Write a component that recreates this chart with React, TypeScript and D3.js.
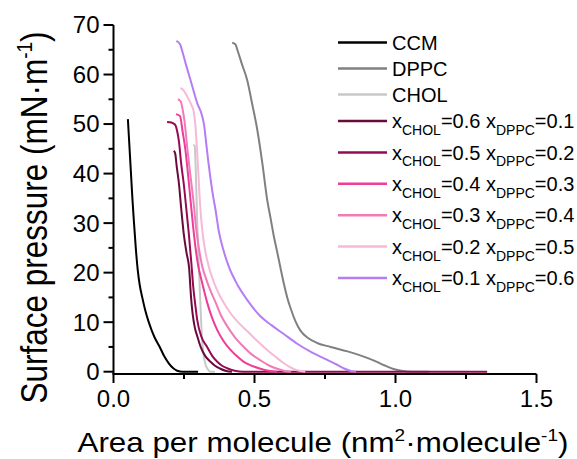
import { useEffect, useRef } from "react";
import * as d3 from "d3";

// isotherm data: [area (nm²·molecule⁻¹), surface pressure (mN·m⁻¹)]
const ccm = [[0.051,51],[0.056,46],[0.062,40],[0.067,35],[0.072,30.6],[0.079,25],[0.086,20.5],[0.093,17.5],[0.102,15],[0.113,12.3],[0.125,10],[0.145,7],[0.164,5],[0.18,3.1],[0.196,1.7],[0.212,0.7],[0.226,0.2],[0.245,0],[0.3,0]];
const dppc = [[0.421,66.4],[0.432,66.1],[0.442,64.5],[0.456,62],[0.474,58.9],[0.492,54],[0.51,48.8],[0.528,42],[0.545,34.7],[0.557,31],[0.568,27.5],[0.58,24.3],[0.592,21],[0.604,17.8],[0.616,15],[0.628,12.8],[0.645,10.2],[0.663,8.3],[0.69,6.8],[0.722,5.8],[0.77,5],[0.83,4.1],[0.89,3],[0.93,2.1],[0.96,1.3],[0.99,0.6],[1.02,0.2],[1.06,0],[1.12,0]];
const chol = [[0.283,45.8],[0.288,45.6],[0.291,42],[0.294,36],[0.297,30],[0.301,24],[0.305,18],[0.309,12.5],[0.313,7.5],[0.318,4],[0.325,1.7],[0.334,0.5],[0.345,0],[0.36,0]];
const mix61 = [[0.214,44.6],[0.219,44],[0.224,41.5],[0.232,38],[0.24,33],[0.249,27.9],[0.259,24],[0.268,21],[0.275,15],[0.281,11.5],[0.288,9],[0.298,7],[0.309,5],[0.325,3.2],[0.344,2],[0.36,1.2],[0.379,0.6],[0.4,0.15],[0.42,0]];
const mix52 = [[0.19,50.4],[0.205,50.3],[0.218,49.9],[0.226,48.5],[0.232,46.5],[0.24,42],[0.249,38],[0.258,33],[0.267,27.9],[0.276,22],[0.283,17],[0.29,13.5],[0.297,10.4],[0.312,7],[0.332,5],[0.35,3.2],[0.368,2],[0.385,1.2],[0.403,0.7],[0.43,0.2],[0.46,0],[1.325,0]];
const mix43 = [[0.222,52],[0.236,51.6],[0.245,48.5],[0.255,44.8],[0.264,40],[0.273,34.7],[0.282,29.5],[0.291,25],[0.3,21.5],[0.312,18.5],[0.332,14],[0.35,10.8],[0.368,8.4],[0.39,6.2],[0.415,4.4],[0.44,3],[0.462,2],[0.49,1.2],[0.521,0.6],[0.55,0.2],[0.58,0]];
const mix34 = [[0.228,55],[0.238,54.6],[0.245,53],[0.252,50.5],[0.262,45],[0.272,40],[0.283,34.7],[0.293,29],[0.304,24.5],[0.315,21.2],[0.33,18.5],[0.345,16.2],[0.362,14],[0.38,11.5],[0.403,9.2],[0.43,7],[0.462,5],[0.49,3.5],[0.521,2.3],[0.55,1.3],[0.58,0.6],[0.61,0.1],[0.63,0]];
const mix25 = [[0.237,57.3],[0.25,56.7],[0.261,55.6],[0.275,54],[0.284,52.6],[0.29,50],[0.296,45],[0.301,40],[0.306,34.7],[0.314,29],[0.325,24.5],[0.338,21.2],[0.36,17.5],[0.39,14],[0.415,11.8],[0.445,9.8],[0.474,8.2],[0.51,6.2],[0.545,4.4],[0.575,3],[0.604,1.7],[0.63,0.8],[0.651,0.3],[0.68,0]];
const mix16 = [[0.223,66.8],[0.236,66.1],[0.246,64.3],[0.257,62],[0.273,58.9],[0.297,54.2],[0.315,51.5],[0.322,49.5],[0.328,46.5],[0.336,42.5],[0.344,39],[0.353,35.5],[0.362,32.6],[0.373,28.5],[0.39,24.5],[0.409,21.2],[0.44,17.5],[0.474,14.5],[0.521,11.2],[0.56,9.4],[0.604,7.6],[0.65,5.7],[0.7,4],[0.75,2.6],[0.793,1.4],[0.82,0.6],[0.845,0.1],[0.86,0]];

const pureNames = ["CCM", "DPPC", "CHOL"];
const xChol = ["0.6", "0.5", "0.4", "0.3", "0.2", "0.1"];
const xDppc = ["0.1", "0.2", "0.3", "0.4", "0.5", "0.6"];
const colors = ["#000000", "#808080", "#c8c8c8", "#680a3a", "#960a55", "#ee3d96", "#f27ab8", "#f8b8d8", "#b57cf5"];
const allSeries = [ccm, dppc, chol, mix61, mix52, mix43, mix34, mix25, mix16];

const xMajor = [0, 0.5, 1.0, 1.5];
const xMinor = [0.25, 0.75, 1.25];
const yMajor = [0, 10, 20, 30, 40, 50, 60, 70];
const yMinor = [5, 15, 25, 35, 45, 55, 65];

export default function App() {
  const ref = useRef<SVGSVGElement>(null);

  useEffect(() => {
    const width = 577;
    const height = 459;
    const left = 113.5;
    const right = 536.5;
    const top = 25;
    const zeroY = 371.7;
    const axisY = 374;
    const font = "'Liberation Sans', Arial, sans-serif";

    const svg = d3.select(ref.current);
    svg.selectAll("*").remove();
    svg.attr("width", width).attr("height", height).attr("viewBox", [0, 0, width, height].join(" "))
      .style("font-family", font);

    svg.append("rect").attr("width", width).attr("height", height).attr("fill", "white");

    const x = d3.scaleLinear([0, 1.5], [left, right]);
    const y = d3.scaleLinear([0, 70], [zeroY, top]);

    // axes
    const ax = svg.append("g").attr("stroke", "black").attr("stroke-width", 2);
    ax.append("line").attr("x1", left).attr("x2", left).attr("y1", top).attr("y2", axisY);
    ax.append("line").attr("x1", left - 1).attr("x2", right).attr("y1", axisY).attr("y2", axisY);

    ax.selectAll(".ytk").data(yMajor).join("line")
      .attr("x1", left - 10).attr("x2", left).attr("y1", d => y(d)).attr("y2", d => y(d));
    ax.selectAll(".ymn").data(yMinor).join("line")
      .attr("x1", left - 5).attr("x2", left).attr("y1", d => y(d)).attr("y2", d => y(d));
    ax.selectAll(".xtk").data(xMajor).join("line")
      .attr("x1", d => x(d)).attr("x2", d => x(d)).attr("y1", axisY).attr("y2", axisY + 9);
    ax.selectAll(".xmn").data(xMinor).join("line")
      .attr("x1", d => x(d)).attr("x2", d => x(d)).attr("y1", axisY).attr("y2", axisY + 5);

    svg.append("g").selectAll("text").data(yMajor).join("text")
      .attr("x", left - 14).attr("y", d => y(d)).attr("dy", "0.35em")
      .attr("text-anchor", "end").attr("font-size", 24).text(d => d);

    svg.append("g").selectAll("text").data(xMajor).join("text")
      .attr("x", d => x(d)).attr("y", 406.5)
      .attr("text-anchor", "middle").attr("font-size", 24).text(d => d3.format(".1f")(d));

    // axis titles (the source figure's titles are stretched across the page)
    const xt = svg.append("text").attr("transform", "translate(323,451.5) scale(1.12,1)")
      .attr("text-anchor", "middle").attr("font-size", 28);
    xt.append("tspan").text("Area per molecule (nm");
    xt.append("tspan").attr("font-size", 17).attr("dy", -11).text("2");
    xt.append("tspan").attr("dy", 11).text("·molecule");
    xt.append("tspan").attr("font-size", 17).attr("dy", -11).text("-1");
    xt.append("tspan").attr("dy", 11).text(")");

    const yt = svg.append("text").attr("transform", "translate(47,217.5) rotate(-90) scale(1,1.2)")
      .attr("text-anchor", "middle").attr("font-size", 31.5);
    yt.append("tspan").text("Surface pressure (mN·m");
    yt.append("tspan").attr("font-size", 19).attr("dy", -12.5).text("-1");
    yt.append("tspan").attr("dy", 12.5).text(")");

    // isotherms
    const line = d3.line<number[]>().x(d => x(d[0])).y(d => y(d[1])).curve(d3.curveMonotoneX);
    svg.append("g").attr("fill", "none").attr("stroke-width", 2).attr("stroke-linejoin", "round")
      .selectAll("path").data(allSeries).join("path")
      .attr("stroke", (_, i) => colors[i]).attr("d", d => line(d));

    // legend
    const rowY = (i: number) => (i < 3 ? 42.5 + 26 * i : 121 + 31.4 * (i - 3));
    const lg = svg.append("g");
    colors.forEach((c, i) => {
      const yy = rowY(i);
      lg.append("line").attr("x1", 338).attr("x2", 387).attr("y1", yy).attr("y2", yy)
        .attr("stroke", c).attr("stroke-width", 2.5);
      const t = lg.append("text").attr("x", 392).attr("y", yy + 7.2).attr("font-size", 20);
      if (i < 3) {
        t.text(pureNames[i]);
      } else {
        const k = i - 3;
        t.append("tspan").text("x");
        t.append("tspan").attr("font-size", 14).attr("dy", 6.8).text("CHOL");
        t.append("tspan").attr("dy", -6.8).text("=" + xChol[k] + " x");
        t.append("tspan").attr("font-size", 14).attr("dy", 6.8).text("DPPC");
        t.append("tspan").attr("dy", -6.8).text("=" + xDppc[k]);
      }
    });
  }, []);

  return <svg ref={ref} style={{ position: "absolute", left: 0, top: 0, display: "block" }} />;
}
